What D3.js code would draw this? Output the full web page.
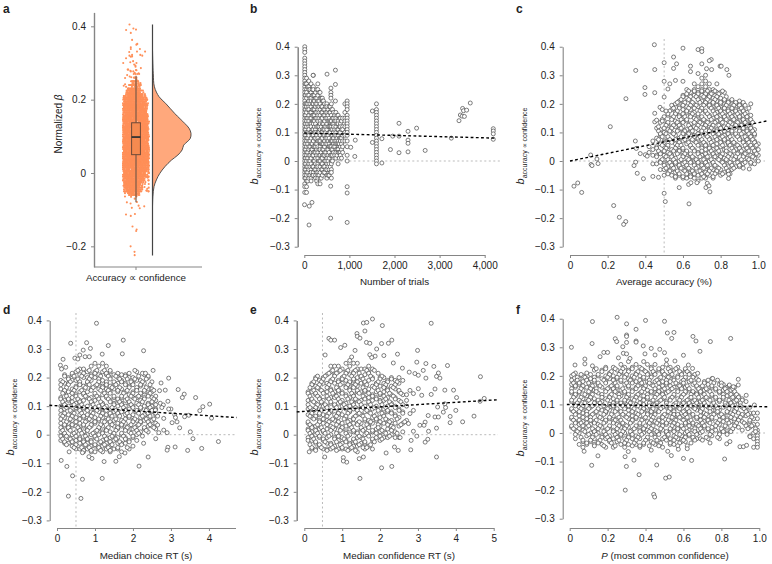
<!DOCTYPE html>
<html><head><meta charset="utf-8">
<script src="https://cdn.jsdelivr.net/npm/d3@7"></script>
<style>html,body{margin:0;padding:0;background:#fff}svg{display:block}text{font-family:"Liberation Sans",Arial,sans-serif;fill:#222}</style>
</head><body><svg id="c" width="772" height="564"></svg>
<script>
const yTicks=[-0.3,-0.2,-0.1,0,0.1,0.2,0.3,0.4];
const aTicks=[-0.2,0,0.2,0.4];
const bTicks=[0,1000,2000,3000,4000];
const cTicks=[0,0.2,0.4,0.6,0.8,1];
const dTicks=[0,1,2,3,4];
const eTicks=[0,1,2,3,4,5];
const fTicks=[0,0.2,0.4,0.6,0.8,1];
// raincloud
const densityAt=[.335,.271,.235,.208,.19,.162,.135,.122,.108,.094,.085,.076,.063,.049,.035,.017,-.001,-.019,-.037,-.064,-.092];
const densityVal=[0,.02,.05,.17,.34,.58,.84,.95,1,.98,.9,.81,.77,.66,.49,.32,.19,.1,.04,.01,0];
const boxStats=[-0.08,0.05,0.098,0.137,0.265];
// fit lines: [x0,y0,x1,y1]
const bFit=[0,.098,4265,.08], cFit=[0,0,1.044,.14], dFit=[-.2,.103,4.73,.06], eFit=[-.2,.08,5.08,.122], fFit=[-.015,.1,1.042,.092];
// panel b: [trials,[y in hundredths]]
const bCols=[
[10,[40,39,38,36,35,34,33,32,31,30,29,28,27,26,25,24,23,22,21,20,19,18,17,16,15,14,13,12,11,10,9,8,7,6,5,4,3,2,1,0,-1,-2,-3,-4,-5,-6,-8,-9,-11]],
[30,[27,23,20,18,16,13,11,9,6,4,1,-1,-3,-6]],
[50,[29,27,25,24,22,20,19,17,15,14,12,10,8,7,5,3,2,0,-2,-4,-5,-7,-9,-11]],
[75,[26,23,20,18,15,13,10,8,6,3,1,-2,-4,-7]],
[100,[28,26,25,23,21,19,18,16,14,12,11,9,7,5,4,2,0,-1,-3,-5,-6]],
[125,[25,22,20,17,15,13,10,7,5,2,0,-2,-5]],
[150,[27,24,22,21,19,17,15,13,12,10,8,6,4,3,1,-1,-3,-4,-6,-7]],
[175,[25,23,20,18,16,14,11,9,6,4,2,-2,-5]],
[200,[30,26,25,23,21,20,18,16,14,13,11,9,7,5,3,2,0,-2,-4,-5]],
[225,[23,21,18,16,14,12,10,8,5,3,0,-3]],
[250,[24,22,20,19,17,15,13,11,10,8,6,5,3,1,-1,-3,-5,-6]],
[275,[25,22,20,17,15,12,9,6,4,2,-2,-4,-7]],
[300,[27,25,23,21,19,18,16,14,12,10,8,7,5,3,1,-1,-2,-4,-5,-6,-8]],
[325,[24,21,19,17,15,12,10,7,4,2,0,-3,-5]],
[350,[24,22,20,18,16,14,13,11,9,7,5,4,2,0,-2,-4,-6,-8]],
[375,[22,19,17,15,12,10,8,6,3,1,-1,-3,-6]],
[400,[22,21,19,17,15,13,11,10,8,6,4,2,1,-1,-3,-5]],
[425,[21,18,16,13,11,9,6,4,2,-2,-4]],
[450,[20,18,16,14,12,11,9,7,5,3,2,0,-2,-4]],
[475,[19,17,15,12,10,8,6,3,0,-3]],
[500,[20,19,17,15,13,11,9,8,6,4,2,1,-1,-3,-5,-6]],
[525,[18,16,14,12,9,7,4,2,0,-2,-5]],
[550,[19,17,15,14,12,10,8,6,5,3,1,-1,-3,-5]],
[575,[19,17,14,12,10,7,5,2,-2,-4]],
[600,[20,18,16,14,12,11,9,7,5,4,2,0,-1,-3,-4,-6]],
[625,[18,15,13,11,9,7,4,2,0]],
[650,[17,15,13,12,10,8,6,5,3]],
[675,[16,14,11,9,7,5,2]],
[700,[17,15,14,12,10,9,7,6,4,3,1]],
[725,[16,13,11,8,6,4,2]],
[750,[16,14,13,11,9,7,6,4,3,-1]],
[775,[15,12,10,8,6,3,1]],
[800,[15,13,12,10,8,7,5,3,2]],
[825,[14,11,8,6,4,1]],
[850,[15,12,11,9,7,5,3]],
[900,[20,17,15,14,12,10,9,7]],
[950,[21,20,19,18,16,15,14,13,12,11,10,9,7,5,2,0]],
[1600,[20,18,17,16,15,14,13,12,11,10,9,8,7,6,5,4,3,2,1,0,-1]]];
const bOut=[[504,.304],[690,.318],[195,.30],[690,.268],[590,.255],[590,.24],[590,.23],[590,.22],[690,.21],[5,-.153],[110,-.158],[170,-.145],[105,-.224],[585,-.2],[950,-.215],[950,-.09],[950,-.112],[585,-.088],[1030,.048],[1130,.073],[1120,.016],[1510,.175],[1510,.065],[1720,.078],[1720,-.007],[1910,.04],[1960,.087],[2100,.132],[2100,.087],[2100,.029],[2300,.104],[2300,.073],[2300,.062],[2300,.032],[2490,.115],[2680,.037],[3260,.08],[3430,.141],[3460,.161],[3500,.157],[3510,.184],[3530,.176],[3550,.156],[3600,.178],[3680,.203],[4190,.113],[4190,.105],[4190,.095],[4190,.076]];
// panel c
const cCols=[
[.42,[5,3]],[.44,[7,4,2,-1]],[.46,[8,5,2,-1]],[.48,[11,9,6,3,0,-3]],
[.50,[14,10,7,5,2,-1,-3,-5]],[.52,[16,13,11,8,5,3,0,-2,-4]],[.54,[18,15,12,10,7,4,2,-1,-3,-5]],
[.56,[20,17,14,12,9,6,4,1,-1,-4,-6]],[.58,[21,19,16,13,11,8,5,3,0,-2,-5]],[.60,[23,20,18,15,12,10,7,4,2,-1,-3,-6]],
[.62,[25,22,19,17,14,11,9,6,3,1,-2,-4,-6]],[.64,[24,21,18,16,13,10,8,5,2,0,-3,-5]],[.66,[27,25,23,20,17,15,12,9,7,4,1,-1,-4,-6]],
[.68,[26,24,22,19,16,14,11,8,6,3,0,-2,-5,-7]],[.70,[29,27,25,23,21,18,15,13,10,7,5,2,-1,-3,-6]],[.72,[30,28,26,24,22,20,17,14,12,9,6,4,1,-2,-4,-6]],
[.74,[27,25,23,21,19,16,13,11,8,5,3,0,-3,-5]],[.76,[25,24,22,20,18,15,12,10,7,4,2,-1,-3,-6]],[.78,[27,24,21,19,17,14,11,9,6,3,1,-2,-4]],
[.80,[24,22,20,18,16,13,10,8,5,2,0,-3,-5]],[.82,[24,21,19,17,15,12,9,7,4,1,-1,-4]],[.84,[21,20,18,16,14,11,8,6,3,0,-2,-4]],
[.86,[21,19,17,15,13,10,7,5,2,-1,-3]],[.88,[20,18,16,14,12,9,6,4,1,-2]],[.90,[21,19,17,15,13,11,8,5,3,0,-2]],
[.92,[20,18,16,14,12,10,7,4,2,-1]],[.94,[17,15,13,11,9,6,3,1]],[.96,[20,16,14,12,10,8,5,2,-1]],[.98,[11,9,7,5,3,1,-1]],[1,[6,4,2,0]]];
const cRows=[
[24.5,[63,66,70,73,77,81]],[23.5,[62,68,72,75,79]],[22.5,[60,64,67,71,74,78,83]],[21.5,[59,63,68,73,77,82,86]],[20.5,[57,61,65,69,72,76,80,84,88,92]],[19.5,[54,60,64,67,71,74,78,83,87,90,93]],[18.5,[55,58,63,66,70,75,79,82,86,91,95]],
[17.5,[53,57,62,69,72,76,80,84,88,92]],[16.5,[52,56,60,65,68,73,77,81,85,89,93]],[15.5,[50,55,58,61,64,70,74,78,82,86,90,94]],[14.5,[49,54,59,62,67,71,75,80,83,87,92,96]],[13.5,[48,52,57,60,66,69,73,77,81,85,89,93,97]],[12.5,[51,55,58,63,68,72,76,79,84,88,91,95]],
[11.5,[46,50,54,59,64,67,71,75,80,83,87,92,96]],[10.5,[47,53,57,61,65,70,74,78,82,86,90,94,97]],[9.5,[48,51,55,60,63,68,72,76,79,84,88,91,95,98]],[8.5,[49,52,59,62,66,69,73,77,81,85,89,93,96]],[7.5,[47,53,56,61,65,70,74,78,82,86,90,94,97]],[6.5,[50,54,58,63,67,71,75,80,84,87,92,95,98]],
[5.5,[49,52,57,59,64,68,72,76,81,85,89,93,96,99]],[4.5,[46,51,56,60,65,70,74,78,83,86,90,94,97]],[3.5,[47,50,55,58,62,66,70,75,79,83,87,91,95,98]],[2.5,[48,53,57,61,64,68,72,76,81,85,89,93,99]],[1.5,[46,51,54,60,65,69,73,77,80,84,88,92,97]],[0.5,[49,52,55,59,63,67,71,75,79,83,87,91,95]],
[-0.5,[48,53,56,61,64,68,72,76,81,85,89,93,96]],[-1.5,[50,54,58,62,66,70,73,77,82,86,90]],[-2.5,[51,55,59,63,67,71,75,79,83,87,92]],[-3.5,[53,57,61,65,69,74,78,84]],[-4.5,[52,58,62,66,70,73,77,81,85]],[-5.5,[56,60,64,71,76]]];
const cOut=[[.448,.407],[.60,.395],[.68,.39],[.70,.393],[.70,.383],[.55,.364],[.75,.355],[.74,.351],[.50,.344],[.566,.34],[.70,.34],[.797,.332],[.803,.332],[.64,.332],[.833,.32],[.55,.324],[.349,.317],[.45,.32],[.64,.313],[.725,.323],[.752,.32],[.68,.306],[.844,.3],[.5,.279],[.53,.27],[.6,.279],[.56,.282],[.398,.257],[.398,.233],[.52,.252],[.45,.239],[.297,.218],[.5,.224],[.214,.12],[.347,.07],[.352,.044],[.349,-.004],[.34,-.016],[.373,.026],[.40,.022],[.41,.017],[.357,-.043],[.39,-.062],[.44,-.054],[.47,-.057],[.45,.167],[.45,.137],[.46,.143],[.478,.188],[.49,.18],[.51,.175],[.47,.12],[.49,.14],[.11,.021],[.112,-.012],[.117,-.016],[.143,.007],[.149,-.009],[.021,-.088],[.041,-.077],[.062,-.11],[.232,-.156],[.262,-.197],[.296,-.212],[.285,-.222],[.5,-.113],[.506,-.142],[.632,-.15],[.58,-.093],[.63,-.082],[.642,-.076],[.674,-.076],[.722,-.093],[.729,-.078],[.738,-.087],[.743,-.108],[.842,-.046],[.842,-.061],[.952,-.028]];
// panel d
const dCols=[
[.1,[19,16,13,10,7,4,1,-2]],[.2,[21,18,15,12,9,6,3,0,-3]],[.3,[20,18,15,12,10,7,4,2,-1,-3]],[.4,[21,19,16,13,11,8,5,3,0,-2,-4]],
[.5,[22,19,17,14,11,9,6,3,1,-2,-5]],[.6,[23,21,18,15,12,10,7,4,2,-1,-3,-5]],[.7,[23,20,17,14,12,9,6,3,1,-2,-4,-6]],[.8,[22,20,18,15,13,10,7,5,2,0,-3,-5]],
[.9,[24,21,19,16,13,11,8,5,3,0,-2,-4,-6]],[1,[25,22,20,17,14,12,9,6,4,1,-1,-4,-6]],[1.1,[24,21,18,16,13,10,8,5,2,0,-3,-5]],[1.2,[25,22,19,17,14,11,9,6,3,1,-2,-4,-6]],
[1.3,[24,21,18,16,13,10,7,5,2,-1,-3,-5]],[1.4,[22,20,17,15,12,9,7,4,1,-1,-4,-6]],[1.5,[21,18,16,13,11,8,5,3,0,-2,-5]],[1.6,[20,18,15,12,10,7,4,2,-1,-3,-5]],
[1.7,[21,19,16,13,11,8,5,3,0,-3,-6]],[1.8,[21,18,15,12,10,7,4,2,-1,-3]],[1.9,[20,17,14,11,9,6,3,1,-2,-5]],[2,[20,18,15,13,10,7,5,2,-1,-4]],
[2.1,[22,19,16,13,11,8,5,3,0,-2]],[2.2,[19,17,14,12,9,6,4,1]],[2.3,[21,18,15,13,10,7,5,2]],[2.4,[20,16,14,11,9,6,3,1]],[2.5,[16,15,13,10,8,5,3]],[2.6,[12,9,7,4,2]]];
const dRows=[
[22.5,[55,85,105,125,140,205]],[21.5,[40,70,100,130,160,190,225]],[20.5,[20,45,65,90,115,135,155,180,215,240]],[19.5,[30,55,85,110,140,165,185,205,235]],[18.5,[15,35,60,80,110,130,150,170,195,225,250]],[17.5,[10,30,60,85,105,130,155,180,200,220,245]],[16.5,[25,50,75,95,120,145,165,190,210,235]],
[15.5,[20,45,65,90,115,135,160,185,210,230,255]],[14.5,[15,40,70,100,125,140,175,200,220,245]],[13.5,[25,50,75,105,130,150,170,195,215,240,260]],[12.5,[10,30,55,85,110,135,160,185,205,230,255]],[11.5,[15,40,60,90,115,140,165,190,225,250]],[10.5,[20,45,65,95,120,150,170,195,215,240,260]],
[9.5,[25,50,70,100,125,145,175,200,220,245]],[8.5,[10,35,60,80,105,130,155,180,210,235,250]],[7.5,[20,45,65,95,120,140,160,185,215,240,260]],[6.5,[15,40,70,90,115,145,165,190,225,245,265]],[5.5,[10,35,60,85,110,135,155,180,205,235,255]],[4.5,[25,50,75,100,125,140,175,200,220,240]],
[3.5,[20,40,70,90,115,145,170,195,215,245]],[2.5,[10,30,55,85,110,135,160,185,205,230,255]],[1.5,[15,35,60,80,105,130,155,180,210,235]],[0.5,[20,45,65,95,120,150,170,195,215]],[-0.5,[10,25,50,75,100,125,145,175,200,225]],[-1.5,[15,35,60,80,105,130,155,180]],[-2.5,[20,40,70,90,115,140,165,190]],[-3.5,[25,50,75,100,125,145,170]],[-4.5,[45,65,85,110,135,160,185]],[-5.5,[70,90,115,140]]];
const dOut=[[1.04,.39],[.36,.32],[.78,.322],[1.745,.331],[1.35,.312],[2.28,.294],[1.72,.283],[1.19,.282],[.69,.296],[.88,.302],[.6,.279],[.47,.268],[.55,.265],[.74,.273],[.85,.273],[.16,.264],[.09,.243],[.23,.236],[.12,.23],[2.53,.225],[2.33,.215],[2.94,.198],[2.74,.181],[3.19,.158],[2.85,.156],[2.7,.154],[3.35,.142],[3.3,.13],[3.65,.13],[2.92,.117],[4.02,.107],[3.84,.098],[3.76,.084],[2.72,.11],[2.8,.104],[3,.09],[2.76,.095],[4.07,.058],[3.47,.068],[3.36,.063],[3.03,.042],[3.16,.045],[3.23,.024],[3.51,.01],[3.58,-.014],[4.25,-.024],[3.81,-.048],[3.44,-.055],[3.11,-.043],[2.92,-.044],[2.9,-.054],[2.4,-.078],[2.16,-.11],[1.24,-.094],[1.55,-.093],[.92,-.083],[.84,-.077],[1.19,-.153],[.67,-.156],[.41,-.144],[.26,-.111],[.11,-.09],[.3,-.215],[.63,-.223],[.32,-.06],[.67,-.063],[2.6,-.014],[2.28,-.03],[1.64,-.077],[1.79,-.064],[2.68,.007],[2.81,.016],[2.9,.007],[2.65,.034],[2.81,.057],[2.94,.09],[2.59,.086],[3.1,.07],[3.12,.06]];
// panel e
const eCols=[
[.1,[15,12,9,7,4,2,-1,-2]],[.2,[18,15,12,9,6,3,1,-2,-5]],[.3,[20,17,14,11,9,6,3,0,-3,-5]],[.4,[19,16,13,10,7,5,2,-1,-4]],[.5,[20,18,15,12,10,7,4,1,-2,-5]],
[.6,[21,18,15,13,10,7,5,2,-1,-3,-5]],[.7,[24,22,19,16,13,11,8,5,3,0,-3,-5]],[.8,[24,21,18,15,13,10,7,5,2,-1,-4]],[.9,[24,22,19,16,14,11,8,6,3,0,-2,-5]],[1,[23,20,18,15,12,10,7,4,2,-1,-3,-5]],
[1.1,[25,22,19,17,14,11,9,6,3,1,-2,-5]],[1.2,[26,24,21,18,16,13,10,8,5,2,0,-3,-5]],[1.3,[25,22,19,17,14,11,9,6,4,1,-2,-4]],[1.4,[25,23,20,17,15,12,9,7,4,1,-1,-4,-6]],[1.5,[23,20,18,15,12,10,7,4,2,-1,-3]],
[1.6,[23,21,18,15,13,10,8,5,2,0,-3,-5]],[1.7,[24,22,19,16,13,11,8,5,3,0,-4]],[1.8,[23,20,17,14,12,9,6,4,1,-2,-5]],[1.9,[18,15,13,10,7,5,2,-1]],[2,[20,17,14,12,9,6,3,1,-2]],
[2.1,[20,18,15,12,9,7,4,1,-1]],[2.2,[19,16,13,10,8,5,2,-1]],[2.3,[20,17,14,11,8,5,3,0]],[2.4,[19,16,13,10,7,4,1,-1]],[2.5,[20,18,15,12,9,6,3,-1]],[2.6,[19,14,8,4,1]],[2.7,[14,10,5]]];
const eRows=[
[22.5,[75,95,115,135,165,185]],[21.5,[65,85,110,130,145,170,195]],[20.5,[35,55,80,105,125,150,175,205]],[19.5,[30,50,75,100,130,155,180,200,230]],[18.5,[25,45,70,90,120,140,160,195,220,245]],[17.5,[20,40,65,95,115,135,165,190,215,240]],[16.5,[15,35,60,85,110,130,155,185,210,235]],
[15.5,[25,45,70,90,120,140,160,195,220,250]],[14.5,[10,30,50,75,100,125,145,170,200,225,255]],[13.5,[15,35,60,85,110,130,155,180,210,235]],[12.5,[20,40,65,90,115,135,160,190,215,240]],[11.5,[25,45,70,95,125,145,170,200,225,255]],[10.5,[10,35,55,80,105,130,150,175,205,230,260]],
[9.5,[15,30,60,85,110,135,155,185,215,240]],[8.5,[25,45,70,95,120,140,165,195,220,250]],[7.5,[20,40,65,90,115,145,175,205,230,260]],[6.5,[15,30,60,85,110,135,155,185,210,240]],[5.5,[25,50,75,105,130,160,190,215,245]],[4.5,[10,40,65,90,115,145,175,200,225,265]],
[3.5,[15,35,60,85,120,140,165,195,220,255]],[2.5,[20,45,75,100,125,150,170,195,235]],[1.5,[10,30,50,70,95,130,155,180,205,230]],[0.5,[15,35,55,85,110,140,165,190,215,245]],[-0.5,[20,40,65,90,115,145,170,200,225]],[-1.5,[25,50,80,105,130,155,180,205]],[-2.5,[30,55,85,110,135,160,185]],[-3.5,[15,40,70,95,120,145,175]],[-4.5,[20,45,75,100,125,155,165]],[-5.5,[30,60,85,115,135]]];
const eOut=[[1.8,.405],[3.35,.39],[2.06,.382],[1.56,.391],[1.65,.393],[1.6,.363],[1.39,.354],[1.4,.344],[1.47,.338],[.65,.337],[.7,.331],[.8,.331],[2.31,.331],[1.64,.323],[1.73,.32],[2.04,.319],[2.22,.32],[1.07,.313],[.96,.305],[1.91,.3],[2.99,.295],[1.34,.295],[.55,.279],[1.73,.28],[1.87,.275],[2.1,.277],[2.46,.282],[1.25,.272],[1.78,.27],[2.97,.254],[3.21,.249],[2.35,.251],[3.42,.239],[3.78,.242],[3.14,.225],[2.59,.233],[2.77,.219],[2.92,.214],[3.01,.208],[3.21,.198],[3.54,.216],[3.49,.204],[3.58,.198],[4.65,.203],[3.45,.16],[3.71,.156],[3.94,.156],[3.35,.141],[4.02,.13],[4.75,.127],[4.64,.117],[3.71,.108],[3.52,.097],[3.73,.095],[3.67,.079],[4,.085],[3.85,.064],[4.48,.065],[4.18,.045],[3.85,.042],[3.45,.062],[3.54,.062],[3.49,.023],[3.28,.012],[3.26,-.016],[3.19,-.026],[2.81,-.053],[3.49,-.078],[2.31,-.111],[2.04,-.116],[1.47,-.153],[1.03,-.08],[1.12,-.096],[1.03,-.092],[1.45,-.084],[1.56,-.078],[2.16,-.064],[2.48,-.055],[2.38,-.043],[.54,-.078],[.13,-.06],[2.79,.155],[2.88,.144],[3.01,.161],[3.1,.138],[2.7,.12],[2.88,.085],[2.79,.074],[2.75,.039],[3.05,.033],[3.19,.044],[2.88,.012],[2.97,-.005],[2.82,-.02],[2.53,-.01],[3.27,.067],[3.16,.033]];
// panel f
const fCols=[
[.01,[20,17,14,11,8,5,2]],[.03,[21,18,16,13,10,7,4,1,-2]],[.05,[19,17,14,11,9,6,3,0,-4]],[.07,[20,18,15,12,9,7,4,1,-3,-5]],[.09,[21,19,16,13,11,8,5,2,-1,-4]],
[.11,[19,17,14,12,9,6,3,0,-3]],[.13,[22,18,15,12,10,7,4,1,-2,-4]],[.15,[20,17,14,11,8,6,3,0,-3]],[.17,[22,19,16,13,11,8,5,2,-1,-4]],[.19,[23,20,18,15,12,9,7,4,1,-2,-5]],
[.21,[21,19,16,13,10,8,5,2,-1,-3]],[.23,[23,20,17,15,12,9,6,4,1,-2,-5]],[.25,[22,19,16,14,11,8,5,3,0,-3]],[.27,[24,21,18,15,13,10,7,4,2,-1,-4]],[.29,[23,20,17,14,11,9,6,3,0,-2,-5]],
[.31,[25,22,19,16,13,11,8,5,2,-1,-4]],[.33,[23,20,18,15,12,9,6,4,1,-2]],[.35,[24,21,18,16,13,10,7,5,2,-1,-4]],[.37,[23,20,17,14,12,9,6,3,1,-2,-5]],[.39,[25,22,19,16,13,10,8,5,2,0,-4]],
[.41,[24,21,18,15,12,9,7,4,1,-2]],[.43,[23,20,17,14,11,8,6,3,0,-3,-6]],[.45,[24,21,18,15,13,10,7,4,1,-1,-4]],[.47,[22,19,16,14,11,8,5,3,0,-3]],[.49,[23,21,18,15,12,9,6,4,1,-2,-5]],
[.51,[24,20,17,14,11,9,6,3,0,-2]],[.53,[23,20,18,15,12,9,7,4,1,-2,-4]],[.55,[22,19,16,13,10,8,5,2,-1,-4]],[.57,[23,20,17,15,12,9,6,3,1,-2]],[.59,[21,18,16,13,10,7,5,2,-1,-3]],
[.61,[22,19,16,14,11,8,5,3,0,-3]],[.63,[21,18,15,12,10,7,4,1,-1]],[.65,[20,17,14,11,9,6,3,1,-2]],[.67,[19,16,14,11,8,5,3,0,-2]],[.69,[16,14,11,8,6,3,0,-2]],
[.71,[18,15,12,10,7,4,2]],[.73,[17,15,12,9,6,4,1,-2]],[.75,[19,16,13,10,8,5,2,-1]],[.77,[15,12,9,7,4,1]],[.79,[17,14,11,8,6,3,0,-2]],
[.81,[17,15,12,9,6,4,1]],[.83,[16,13,10,7,5,2,0]],[.85,[15,12,10,7,4,1]],[.87,[16,13,11,8,5,3]],[.89,[13,10,7,5,2]],
[.91,[12,9,6,4,1]],[.93,[11,8,6,3]],[.95,[9,7,4,2,-1]],[.97,[7,5,3,0,-2,-5]],[.99,[7,5,3,1,0,-1,-2,-3,-4,-5]]];
const fRows=[
[22.5,[14,19,24,28,33,38,43,47,52,56,61]],[21.5,[17,22,27,31,36,40,44,49,53,58,62]],[20.5,[2,6,11,15,21,26,30,35,41,45,50,54,59,63,66]],[19.5,[4,8,13,20,25,29,34,39,43,48,52,57,61,65]],[18.5,[1,4,9,13,18,23,27,32,37,42,46,51,55,60,64,68,73,78]],
[17.5,[2,5,10,15,19,24,30,33,38,42,47,51,56,60,66,71,76,80]],[16.5,[3,7,12,16,22,25,31,36,40,44,49,53,58,62,67,70,75,80,84]],[15.5,[1,6,11,14,20,23,28,35,39,45,50,54,59,63,68,72,77,82,86]],[14.5,[1,5,10,14,19,24,29,33,38,43,47,52,57,61,65,69,74,79,83,87]],
[13.5,[3,8,12,17,22,26,31,36,41,46,49,55,60,64,67,71,75,81,85,88]],[12.5,[2,6,11,17,21,26,30,35,41,45,50,54,59,64,68,72,77,81,86,89]],[11.5,[1,5,10,15,20,25,29,34,39,44,48,53,58,62,66,70,74,79,84,88,91]],[10.5,[4,8,13,16,23,27,32,37,42,46,51,56,60,63,67,71,76,82,85,90]],
[9.5,[3,7,12,18,23,28,31,36,42,46,51,56,59,64,68,72,77,82,86,90]],[8.5,[1,6,10,15,20,25,29,34,39,44,48,53,58,62,66,70,74,78,84,88,92]],[7.5,[2,5,9,14,19,24,27,33,38,43,47,52,55,60,63,69,74,78,83,87,93]],[6.5,[3,9,12,18,22,28,31,36,41,45,50,55,57,61,65,72,76,80,86,91,94]],
[5.5,[1,7,11,16,21,26,30,35,40,44,49,54,58,62,67,71,75,81,85,90,96]],[4.5,[2,5,11,14,19,24,27,33,38,43,47,52,56,60,64,69,73,79,83,89,95]],[3.5,[3,6,9,13,18,23,28,32,37,42,46,51,55,61,65,70,74,78,84,88,92]],[2.5,[1,7,10,16,21,26,30,35,40,44,49,54,59,63,68,71,77,82,87,93,96]],
[1.5,[2,5,12,15,20,25,29,34,39,43,48,53,57,60,66,69,73,80,86,94,98]],[0.5,[4,8,13,18,23,28,32,37,42,46,51,55,62,66,70,75,81,85,98]],[-0.5,[3,10,14,19,24,27,33,38,43,47,52,58,63,67,74,79,83]],[-1.5,[6,12,17,20,25,31,36,41,45,50,56,61,65,72,78]],[-2.5,[7,11,16,21,26,30,35,40,46,51,55,60,66,70]],[-3.5,[9,15,22,29,34,39,44,48,53,58,64,74]],[-4.5,[13,18,24,33,37,42,47,57,62]]];
const fOut=[[.25,.405],[.12,.39],[.3,.382],[.4,.394],[.5,.391],[.35,.363],[.515,.35],[.55,.352],[.538,.331],[.65,.338],[.666,.322],[.742,.32],[.849,.331],[.3,.343],[.3,.338],[.24,.33],[.248,.32],[.35,.322],[.35,.318],[.3,.317],[.118,.313],[.009,.3],[.388,.305],[.28,.302],[.43,.296],[.475,.293],[.687,.286],[.283,.279],[.3,.277],[.397,.277],[.5,.281],[.6,.272],[.18,.282],[.2,.282],[.16,.267],[.08,.259],[.08,.242],[.028,.238],[.12,.235],[.257,.263],[.318,.261],[.45,.273],[.511,.256],[.555,.252],[.626,.238],[.648,.226],[.675,.209],[.754,.191],[.889,.188],[.842,.168],[.863,.162],[.889,.168],[.931,.132],[.974,.098],[.116,-.113],[.149,-.08],[.299,-.117],[.293,-.2],[.366,-.146],[.339,-.095],[.443,-.215],[.448,-.224],[.459,-.112],[.506,-.158],[.525,-.154],[.536,-.079],[.6,-.089],[.643,-.096],[.817,-.091],[.62,-.055],[.517,-.064],[.292,-.083],[.309,-.065],[.076,-.064],[.573,-.057],[.898,-.048],[.916,-.048],[.933,-.043],[.828,-.038],[.845,-.03],[.951,-.013]];

const fromCols=c=>c.flatMap(([x,ys])=>ys.map(v=>[x,v/100]));
const fromRows=r=>r.flatMap(([v,xs])=>xs.map(x=>[x/100,v/100]));
const svg=d3.select("#c");
const minus=s=>s.replace("-","\u2212");
const GRAY="#858585",TXT=10;
const yFmt=v=>v===0?"0":minus(d3.format(".1f")(v));
const oneDec=v=>v===0?"0":d3.format(".1f")(v);

function axisStyle(g,width){
  g.selectAll(".domain").attr("stroke",GRAY).attr("stroke-width",width);
  g.selectAll(".tick line").attr("stroke",GRAY).attr("stroke-width",1);
  g.selectAll("text").attr("font-size",TXT+"px").attr("font-family","Liberation Sans").attr("fill","#222");
}
function panelLabel(t,x,y){svg.append("text").attr("x",x).attr("y",y).attr("font-weight","bold").attr("font-size","12px").text(t);}

function scatter(o){
  const g=svg.append("g");
  const x=d3.scaleLinear().domain(o.xDom).range(o.xRange);
  const y=d3.scaleLinear().domain([-.3,.4]).range([o.y0+.3*285.7,o.y0-.4*285.7]);
  const ax=g.append("g").attr("transform",`translate(0,${o.axisY})`).call(d3.axisBottom(x).tickValues(o.ticks).tickSize(3).tickSizeOuter(0).tickPadding(4).tickFormat(o.fmt));
  axisStyle(ax,1);
  const ay=g.append("g").attr("transform",`translate(${o.yAxisX},0)`).call(d3.axisLeft(y).tickValues(yTicks).tickSize(3).tickSizeOuter(0).tickPadding(5).tickFormat(yFmt));
  axisStyle(ay,o.thick||1.1);
  g.append("line").attr("x1",x(0)).attr("x2",o.zeroEnd).attr("y1",y(0)).attr("y2",y(0)).attr("stroke","#bbb").attr("stroke-dasharray","2 2.5").attr("stroke-width",1);
  if(o.vline!==undefined) g.append("line").attr("x1",x(o.vline)).attr("x2",x(o.vline)).attr("y1",o.vTop).attr("y2",o.axisY-1).attr("stroke","#bbb").attr("stroke-dasharray","2 2.5").attr("stroke-width",1);
  g.append("g").selectAll("circle").data(o.pts).join("circle")
    .attr("cx",d=>x(d[0])).attr("cy",d=>y(d[1])).attr("r",2)
    .attr("fill","#fff").attr("stroke","#484848").attr("stroke-width",.7);
  g.append("line").attr("x1",x(o.fit[0])).attr("y1",y(o.fit[1])).attr("x2",x(o.fit[2])).attr("y2",y(o.fit[3]))
    .attr("stroke","#000").attr("stroke-width",1.4).attr("stroke-dasharray","2.8 2.4");
  const xl=svg.append("text").attr("x",o.xLabelX).attr("y",o.xLabelY).attr("text-anchor","middle").attr("font-size","9.8px");
  o.xLabel(xl);
  const yl=svg.append("text").attr("transform",`translate(${o.yLabelX},${o.yLabelY}) rotate(-90)`).attr("text-anchor","middle");
  yl.append("tspan").attr("font-style","italic").attr("font-size","11px").text("b");
  yl.append("tspan").attr("font-size","7px").attr("dy","2.5").text("accuracy \u221D confidence");
}
const plain=s=>t=>t.text(s);
const bPts=fromCols(bCols).concat(bOut);
const cPts=fromCols(cCols).concat(fromRows(cRows),cOut);
const dPts=fromCols(dCols).concat(fromRows(dRows),dOut);
const ePts=fromCols(eCols).concat(fromRows(eRows),eOut);
const fPts=fromCols(fCols).concat(fromRows(fRows),fOut);

scatter({pts:bPts,xDom:[0,4000],xRange:[304.3,484.7],y0:161,axisY:255,yAxisX:297.7,thick:1.5,ticks:bTicks,fmt:d3.format(","),zeroEnd:500,fit:bFit,xLabelX:394.5,xLabelY:285,xLabel:plain("Number of trials"),yLabelX:258,yLabelY:146});
scatter({pts:cPts,xDom:[0,1],xRange:[570,758.3],y0:161,axisY:255,yAxisX:562.7,ticks:cTicks,fmt:oneDec,zeroEnd:765,vline:.5,vTop:39,fit:cFit,xLabelX:664,xLabelY:285,xLabel:plain("Average accuracy (%)"),yLabelX:524,yLabelY:146});
scatter({pts:dPts,xDom:[0,4.7],xRange:[57,235.5],y0:434.7,axisY:528,yAxisX:49.7,ticks:dTicks,fmt:d3.format("d"),zeroEnd:236,vline:.5,vTop:313,fit:dFit,xLabelX:146,xLabelY:559,xLabel:plain("Median choice RT (s)"),yLabelX:14,yLabelY:417});
scatter({pts:ePts,xDom:[0,5],xRange:[304.3,493.7],y0:434.7,axisY:528,yAxisX:296.7,thick:1.5,ticks:eTicks,fmt:d3.format("d"),zeroEnd:498,vline:.48,vTop:313,fit:eFit,xLabelX:399,xLabelY:559,xLabel:plain("Median confidence RT (s)"),yLabelX:258,yLabelY:417});
scatter({pts:fPts,xDom:[0,1],xRange:[569.7,759.3],y0:433,axisY:528,yAxisX:562.7,ticks:fTicks,fmt:oneDec,zeroEnd:765,fit:fFit,xLabelX:665,xLabelY:559,xLabel:t=>{t.append("tspan").attr("font-style","italic").text("P");t.append("tspan").text(" (most common confidence)");},yLabelX:524,yLabelY:418});

// Panel a: raincloud, its dots reuse the betas of the scatter panels (core from c, d, e, f; tails from f)
(function(){
  const y=d3.scaleLinear().domain([-.256,.438]).range([173+.256*366.7,173-.438*366.7]);
  const ax=svg.append("g").attr("transform","translate(0,267)");
  ax.append("line").attr("x1",94).attr("x2",202).attr("stroke",GRAY).attr("stroke-width",1.2);
  ax.append("line").attr("x1",136).attr("x2",136).attr("y2",3).attr("stroke",GRAY);
  const ay=svg.append("g").attr("transform","translate(94,0)").call(d3.axisLeft(y).tickValues(aTicks).tickSize(3).tickSizeOuter(0).tickPadding(5).tickFormat(yFmt));
  axisStyle(ay,1.4);
  const sets=[[fromCols(fCols).concat(fromRows(fRows),fOut),[0,1]],[fromCols(cCols).concat(fromRows(cRows)),[.42,1]],[fromCols(dCols).concat(fromRows(dRows)),[.1,2.65]],[fromCols(eCols).concat(fromRows(eRows)),[.1,2.7]]];
  const dots=sets.flatMap(([pts,dom])=>{const j=d3.scaleLinear().domain(dom).range([123,149]).clamp(true);return pts.map(d=>[j(d[0]),d[1]]);});
  svg.append("g").selectAll("circle").data(dots).join("circle").attr("cx",d=>d[0]).attr("cy",d=>y(d[1])).attr("r",1.05).attr("fill","#FF8F58");
  const w=d3.scaleLinear().domain([0,1]).range([152.5,191]);
  const pts=densityAt.map((v,i)=>[v,densityVal[i]]);
  svg.append("path").datum(pts).attr("d",d3.area().curve(d3.curveCatmullRom).y(d=>y(d[0])).x0(w(0)).x1(d=>w(d[1]))).attr("fill","#FFA87C");
  svg.append("path").datum(pts).attr("d",d3.line().curve(d3.curveCatmullRom).y(d=>y(d[0])).x(d=>w(d[1]))).attr("fill","none").attr("stroke","#444").attr("stroke-width",.9);
  svg.append("line").attr("x1",w(0)).attr("x2",w(0)).attr("y1",y(.405)).attr("y2",y(-.225)).attr("stroke","#444").attr("stroke-width",1.2);
  const [lo,q1,med,q3,hi]=boxStats;
  svg.append("line").attr("x1",136).attr("x2",136).attr("y1",y(hi)).attr("y2",y(lo)).attr("stroke","#7a5a48").attr("stroke-width",1.2);
  svg.append("rect").attr("x",131.6).attr("width",8.8).attr("y",y(q3)).attr("height",y(q1)-y(q3)).attr("fill","#F58A50").attr("stroke","#6e4a38").attr("stroke-width",1);
  svg.append("line").attr("x1",131.6).attr("x2",140.4).attr("y1",y(med)).attr("y2",y(med)).attr("stroke","#333").attr("stroke-width",1.8);
  svg.append("text").attr("x",136).attr("y",281).attr("text-anchor","middle").attr("font-size","9.8px").text("Accuracy \u221D confidence");
  const yl=svg.append("text").attr("transform","translate(62,124) rotate(-90)").attr("text-anchor","middle").attr("font-size","10px");
  yl.append("tspan").text("Normalized ");yl.append("tspan").attr("font-style","italic").text("\u03B2");
})();
panelLabel("a",3,13);panelLabel("b",250,13);panelLabel("c",516,13);panelLabel("d",3,314);panelLabel("e",250,314);panelLabel("f",516,314);
</script></body></html>
